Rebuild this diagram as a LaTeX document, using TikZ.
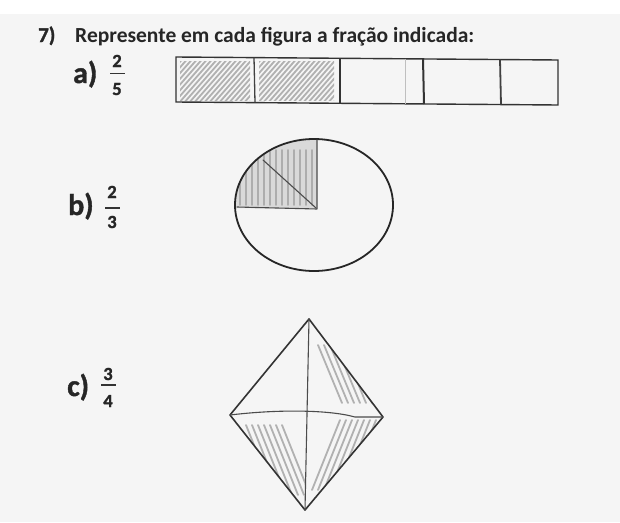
\documentclass[tikz,border=0pt]{standalone}
\usepackage{fontspec}
\setmainfont{Carlito}
\newfontfamily\hvfont{Carlito Bold}[FakeBold=1.3]
\begin{document}
\begin{tikzpicture}[x=1pt,y=-1pt,
  lbl/.style={font=\hvfont\fontsize{30}{32}\selectfont, inner sep=0pt, anchor=base west, text=black!85},
  dig/.style={font=\hvfont\fontsize{18.5}{20}\selectfont, inner sep=0pt, anchor=base, text=black!85},
  fbar/.style={line width=1.8pt, black!80},
  ink/.style={line width=1.6pt, black!80, line cap=round, line join=round},
  pencil/.style={line width=1.1pt, black!70, line cap=round, line join=round},
  hatch/.style={line width=1.8pt, gray!70, line cap=round, opacity=0.85},
]
\useasboundingbox (0,0) rectangle (620,522);
\fill[white] (0,0) rectangle (620,522);
\fill[black!4] (0,14) rectangle (620,522);

% title
\node[font=\hvfont\fontsize{21}{24}\selectfont, inner sep=0pt, anchor=base west, text=black!85] (num) at (38,42) {7)};
\node[font=\bfseries\fontsize{21.5}{24}\selectfont, inner sep=0pt, anchor=base west, text=black!85] (title) at (75,42) {Represente em cada figura a fração indicada:};

% labels a
\node[lbl] (la) at (73,83) {a)};
\node[dig] (na) at (117,67) {2};
\node[dig] (da) at (117,95) {5};
\draw[fbar] (110,73.5) -- (125,73.5);

% labels b
\node[lbl] (lb) at (68,215) {b)};
\node[dig] (nb) at (112,198) {2};
\node[dig] (db) at (112,228) {3};
\draw[fbar] (105,208) -- (120,208);

% labels c
\node[lbl] (lc) at (67,396) {c)};
\node[dig] (nc) at (108,380) {3};
\node[dig] (dc) at (108,407) {4};
\draw[fbar] (101,385) -- (116,385);

% ---- rectangle (a)
\begin{scope}
  \clip (180,61) rectangle (250,100);
  \foreach \i in {-40,-35,...,80} \draw[hatch] (178+\i,104) -- ++(42,-48);
\end{scope}
\begin{scope}
  \clip (259,61) rectangle (334,100);
  \foreach \i in {-40,-35,...,84} \draw[hatch] (257+\i,104) -- ++(42,-48);
\end{scope}
\draw[line width=1.4pt, black!80] (176,57) -- (558,60) -- (558,105) -- (176,102) -- cycle;
\draw[line width=1.3pt, black!75] (254,57.5) -- (255,102.5);
\draw[line width=2pt, black!80] (340,58) -- (340,103);
\draw[line width=0.6pt, black!25] (405,58.5) -- (405,103.5);
\draw[line width=2pt, black!80] (423,59) -- (424,104);
\draw[line width=1.8pt, black!75] (500,59.5) -- (501,104.5);

% ---- circle (b)
\begin{scope}
  \clip (314,205) ellipse [x radius=79pt, y radius=66pt];
  \fill[gray!30] (317,209) -- (317,135) -- (230,135) -- (230,208) -- cycle;
  \foreach \x in {240,246,...,312} \draw[hatch] (\x,205) -- (\x,150);
\end{scope}
\draw[line width=1.8pt, black!85] (314,205) ellipse [x radius=79pt, y radius=66pt];
\draw[pencil] (317,140) -- (317,209) -- (237,207);
\draw[pencil] (263,160) -- (316,208);

% ---- diamond (c)
\coordinate (T) at (309,319);
\coordinate (L) at (230,415);
\coordinate (R) at (383,417);
\coordinate (B) at (305,510);
\coordinate (C) at (308,412);
\begin{scope}
  \clip (T) -- (R) -- (C) -- cycle;
  \foreach \i in {0,6,...,48} \draw[hatch] (318+\i,345) -- ++(24,58);
\end{scope}
\begin{scope}
  \clip (L) -- (C) -- (B) -- cycle;
  \foreach \i in {0,6,...,40} \draw[hatch] (246+\i,425) -- ++(28,70);
\end{scope}
\begin{scope}
  \clip (C) -- (R) -- (B) -- cycle;
  \foreach \i in {0,6,...,40} \draw[hatch] (312+\i,490) -- ++(28,-70);
\end{scope}
\draw[ink] (T) -- (R) -- (B) -- (L) -- cycle;
\draw[pencil] (T) -- (B);
\draw[pencil] (L) .. controls (280,409) and (330,410) .. (355,417) -- (R);
\end{tikzpicture}
\end{document}
